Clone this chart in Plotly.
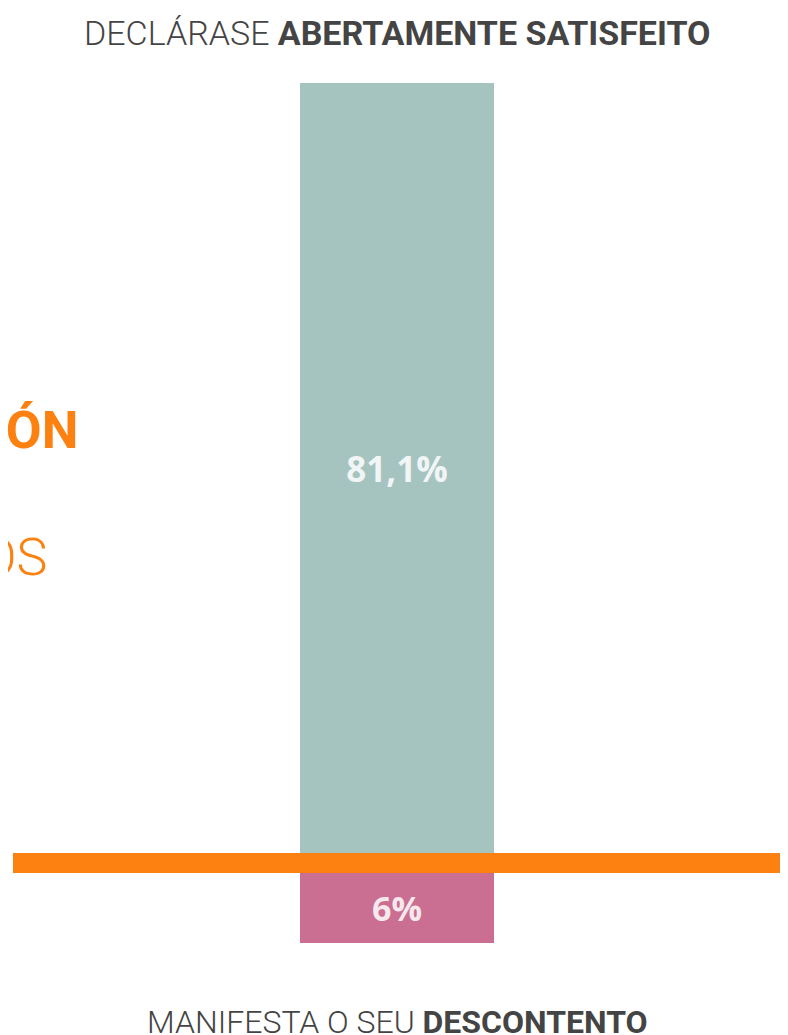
import plotly.graph_objects as go

# Data
categories = ["Abertamente satisfeito", "Descontento"]
values_top = [81.1]
values_bottom = [6]
top_title = "DECLÁRASE <b>ABERTAMENTE SATISFEITO</b>"
bottom_title = "MANIFESTA O SEU <b>DESCONTENTO</b>"
side_label_1 = "SATISFACCIÓN"
side_label_2 = "ENQUISADOS"

# page body has an 8px margin; figure fills the rest
OFF = 8
W, H = 788 - OFF, 1035 - OFF
def px(p):
    return (p - OFF) / W
def py(p):
    return 1 - (p - OFF) / H

fig = go.Figure()
fig.add_trace(go.Bar(
    x=[0], y=values_top, width=1, marker=dict(color="#a6c4bf", line=dict(width=0)),
    texttemplate="%{y:.1f}%", textposition="inside", insidetextanchor="middle",
    textfont=dict(family="Open Sans", size=35, color="rgba(255,255,255,0.85)", weight=700),
    xaxis="x", yaxis="y", hoverinfo="skip", name=categories[0]))
fig.add_trace(go.Bar(
    x=[0], y=values_bottom, width=1, marker=dict(color="#ca6f91", line=dict(width=0)),
    texttemplate="%{y}%", textposition="inside", insidetextanchor="middle",
    textfont=dict(family="Open Sans", size=34, color="rgba(255,255,255,0.85)", weight=700),
    xaxis="x2", yaxis="y2", hoverinfo="skip", name=categories[1]))

# bar spans 300..494 px, centred at 397
bw = 194
xr = [-(397 - OFF) / bw, (W - (397 - OFF)) / bw]
fig.update_layout(
    width=W, height=H, margin=dict(l=0, r=0, t=0, b=0),
    paper_bgcolor="white", plot_bgcolor="rgba(0,0,0,0)",
    showlegend=False, separators=",.",
    xaxis=dict(domain=[0, 1], range=xr, visible=False, fixedrange=True),
    xaxis2=dict(domain=[0, 1], range=xr, visible=False, anchor="y2", fixedrange=True),
    yaxis=dict(domain=[py(853), py(83)], range=[0, values_top[0]], visible=False),
    yaxis2=dict(domain=[py(943), py(873)], range=[values_bottom[0], 0], visible=False, anchor="x2"),
    shapes=[dict(type="rect", xref="paper", yref="paper",
                 x0=px(13), x1=px(780), y0=py(873), y1=py(853),
                 fillcolor="#fd8110", line=dict(width=0), layer="above")],
    annotations=[
        dict(text=top_title, xref="paper", yref="paper", x=px(397), y=py(33),
             xanchor="center", yanchor="middle", showarrow=False,
             font=dict(family="Roboto", size=34, color="#444444", weight=300)),
        dict(text=bottom_title, xref="paper", yref="paper", x=px(397), y=py(1022),
             xanchor="center", yanchor="middle", showarrow=False,
             font=dict(family="Roboto", size=32, color="#444444", weight=300)),
        dict(text="<b>" + side_label_1 + "</b>", xref="paper", yref="paper", x=px(80), y=py(430),
             xanchor="right", yanchor="middle", showarrow=False,
             font=dict(family="Roboto", size=52, color="#fd8110")),
        dict(text=side_label_2, xref="paper", yref="paper", x=px(49), y=py(557),
             xanchor="right", yanchor="middle", showarrow=False,
             font=dict(family="Roboto", size=52, color="#fd8110", weight=300)),
    ],
)
fig.write_html("out.html")
